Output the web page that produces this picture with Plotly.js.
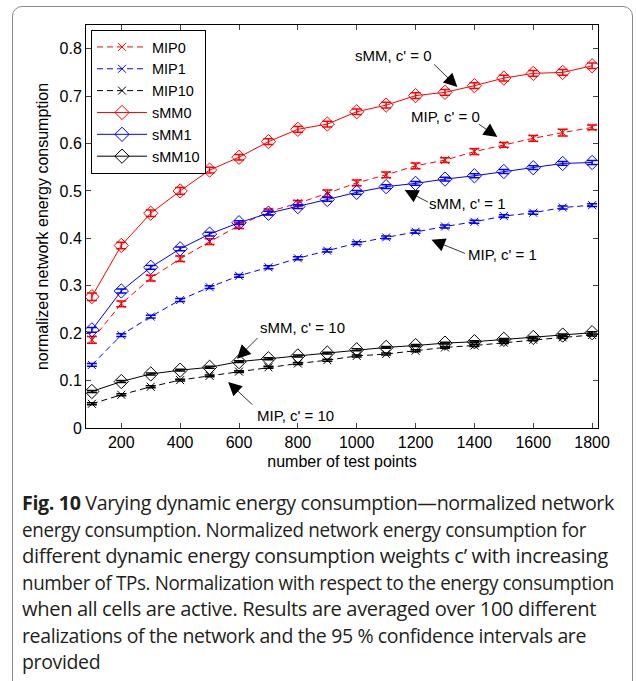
<!DOCTYPE html>
<html>
<head>
<meta charset="utf-8">
<script src="https://cdn.plot.ly/plotly-3.0.1.min.js"></script>
<style>
  html, body { margin: 0; padding: 0; background: #fff; }
  #wrap { position: relative; width: 636px; height: 681px; overflow: hidden; }
  #frame { position: absolute; left: 12px; top: 6px; width: 621px; height: 700px;
           border: 1.5px solid #8a8a8a; border-radius: 10px; box-sizing: border-box; }
  #chart { position: absolute; left: 0; top: 0; width: 636px; height: 681px; }
  #caption { position: absolute; left: 22px; top: 490px; width: 610px;
             font-family: "Open Sans", "Noto Sans", sans-serif; font-size: 19.5px;
             line-height: 26.5px; color: #231f20; letter-spacing: -0.36px; white-space: nowrap; }
  #caption .ln { display: block; height: 26.5px; }
  #caption .ln span { display: inline-block; transform-origin: 0 50%; }
</style>
</head>
<body>
<div id="wrap">
  <div id="frame"></div>
  <div id="chart"></div>
  <div id="caption"></div>
</div>
<script>
// ---- data ----
const testPoints = [100,200,300,400,500,600,700,800,900,1000,1100,1200,1300,1400,1500,1600,1700,1800];

const MIP0  = [0.186,0.262,0.316,0.357,0.393,0.427,0.456,0.474,0.495,0.517,0.534,0.553,0.565,0.583,0.597,0.611,0.623,0.634];
const MIP1  = [0.133,0.196,0.235,0.270,0.297,0.321,0.339,0.358,0.374,0.390,0.402,0.414,0.425,0.435,0.447,0.454,0.465,0.470];
const MIP10 = [0.051,0.070,0.087,0.101,0.110,0.119,0.128,0.136,0.143,0.152,0.156,0.163,0.170,0.174,0.180,0.186,0.191,0.196];
const sMM0  = [0.277,0.385,0.453,0.500,0.544,0.571,0.604,0.630,0.641,0.667,0.681,0.701,0.708,0.722,0.738,0.748,0.750,0.764];
const sMM1  = [0.207,0.289,0.339,0.378,0.409,0.433,0.453,0.467,0.482,0.497,0.509,0.516,0.525,0.532,0.541,0.549,0.558,0.560];
const sMM10 = [0.077,0.098,0.114,0.122,0.128,0.140,0.146,0.152,0.158,0.165,0.170,0.174,0.179,0.182,0.187,0.191,0.196,0.201];

const errMIP0  = [0.007,0.006,0.006,0.006,0.006,0.006,0.006,0.006,0.007,0.006,0.006,0.006,0.005,0.006,0.005,0.006,0.007,0.005];
const errMIP1  = [0.003,0.003,0.003,0.003,0.003,0.003,0.003,0.003,0.003,0.003,0.003,0.003,0.003,0.003,0.003,0.003,0.003,0.003];
const errMIP10 = [0.002,0.002,0.002,0.002,0.002,0.002,0.002,0.002,0.002,0.002,0.002,0.002,0.002,0.002,0.002,0.002,0.002,0.002];
const errsMM0  = [0.008,0.007,0.007,0.007,0.006,0.006,0.006,0.006,0.006,0.006,0.006,0.006,0.006,0.006,0.006,0.006,0.006,0.006];
const errsMM1  = [0.005,0.004,0.004,0.004,0.004,0.004,0.004,0.004,0.004,0.004,0.004,0.004,0.004,0.004,0.004,0.004,0.004,0.004];
const errsMM10 = [0.002,0.002,0.002,0.002,0.002,0.002,0.002,0.002,0.002,0.002,0.002,0.002,0.002,0.002,0.002,0.002,0.002,0.002];

const seriesNames = ["MIP0","MIP1","MIP10","sMM0","sMM1","sMM10"];
const xTicks = [200,400,600,800,1000,1200,1400,1600,1800];
const yTicks = [0,0.1,0.2,0.3,0.4,0.5,0.6,0.7,0.8];

// annotation labels: [text, textX, textY, tailX, tailY, headX, headY]
const labels = [
  ["sMM, c' = 0",  1125, 0.785, 1258, 0.770, 1342, 0.719],
  ["MIP, c' = 0",  1302, 0.657, 1410, 0.643, 1478, 0.614],
  ["sMM, c' = 1",  1376, 0.473, 1247, 0.475, 1163, 0.502],
  ["MIP, c' = 1",  1495, 0.365, 1373, 0.367, 1254, 0.397],
  ["sMM, c' = 10",  817, 0.211,  668, 0.193,  593, 0.146],
  ["MIP, c' = 10",  793, 0.027,  651, 0.046,  563, 0.097]
];

const captionLines = [
  "<b>Fig. 10</b> Varying dynamic energy consumption\u2014normalized network",
  "energy consumption. Normalized network energy consumption for",
  "different dynamic energy consumption weights c\u2019 with increasing",
  "number of TPs. Normalization with respect to the energy consumption",
  "when all cells are active. Results are averaged over 100 different",
  "realizations of the network and the 95 % confidence intervals are",
  "provided"
];
// rendered width (px) of each caption line, to match the typeset caption
const captionLineWidths = [592, 564, 586, 592, 574, 564, 0];

// ---- traces ----
const FONT = '"Liberation Sans", Arial, Helvetica, sans-serif';
const colors = {0: "#ff0000", 1: "#0000ff", 10: "#000000"};
function mip(name, y, err, color) {
  return { type: "scatter", mode: "lines+markers", name: name, x: testPoints, y: y,
    line: { color: color, width: 1, dash: "6px,4px" },
    marker: { symbol: "x-thin-open", size: 8, line: { color: color, width: 1 }, color: color },
    error_y: { type: "data", array: err, visible: true, color: color, thickness: 1.5, width: 5 } };
}
function smm(name, y, err, color) {
  return { type: "scatter", mode: "lines+markers", name: name, x: testPoints, y: y,
    line: { color: color, width: 1 },
    marker: { symbol: "diamond-open", size: 11, line: { color: color, width: 1 }, color: color },
    error_y: { type: "data", array: err, visible: true, color: color, thickness: 1.5, width: 5 } };
}
const traces = [
  mip(seriesNames[0], MIP0, errMIP0, colors[0]),
  mip(seriesNames[1], MIP1, errMIP1, colors[1]),
  mip(seriesNames[2], MIP10, errMIP10, colors[10]),
  smm(seriesNames[3], sMM0, errsMM0, colors[0]),
  smm(seriesNames[4], sMM1, errsMM1, colors[1]),
  smm(seriesNames[5], sMM10, errsMM10, colors[10])
];

const annotations = [];
labels.forEach(l => {
  annotations.push({ x: l[1], y: l[2], xref: "x", yref: "y", text: l[0], showarrow: false,
    font: { family: FONT, size: 15, color: "#000" } });
  annotations.push({ x: l[5], y: l[6], xref: "x", yref: "y", ax: l[3], ay: l[4], axref: "x", ayref: "y",
    text: "", showarrow: true, arrowhead: 2, arrowsize: 3.4, arrowwidth: 0.8, arrowcolor: "#000", standoff: 0 });
});

const layout = {
  width: 636, height: 681,
  margin: { l: 86, r: 38, t: 25, b: 253 },
  paper_bgcolor: "rgba(0,0,0,0)", plot_bgcolor: "#fff",
  font: { family: FONT, size: 16, color: "#000" },
  showlegend: true,
  legend: { x: 0.0098, y: 0.9876, xanchor: "left", yanchor: "top", bgcolor: "#fff",
    bordercolor: "#000", borderwidth: 1, font: { family: FONT, size: 14.5 }, itemwidth: 50, tracegroupgap: 0 },
  xaxis: { range: [80, 1820], tickvals: xTicks, ticks: "inside", ticklen: 5, showline: true, mirror: "ticks",
    linecolor: "#000", linewidth: 1, showgrid: false, zeroline: false, tickfont: { size: 16 },
    title: { text: "number of test points", standoff: 5, font: { size: 16 } } },
  yaxis: { range: [0, 0.85], tickvals: yTicks, ticks: "inside", ticklen: 5, showline: true, mirror: "ticks",
    linecolor: "#000", linewidth: 1, showgrid: false, zeroline: false, tickfont: { size: 16 },
    title: { text: "normalized network energy consumption", standoff: 6, font: { size: 16 } } },
  annotations: annotations
};

Plotly.newPlot("chart", traces, layout, { displayModeBar: false, staticPlot: true });

// caption: one real-text line per row, each fitted to its typeset width
const cap = document.getElementById("caption");
captionLines.forEach((t, i) => {
  const row = document.createElement("div");
  row.className = "ln";
  const s = document.createElement("span");
  s.innerHTML = t;
  row.appendChild(s);
  cap.appendChild(row);
  const w = s.getBoundingClientRect().width;
  if (captionLineWidths[i] > 0 && w > 0) {
    s.style.transform = "scaleX(" + (captionLineWidths[i] / w).toFixed(4) + ")";
  }
});
</script>
</body>
</html>
